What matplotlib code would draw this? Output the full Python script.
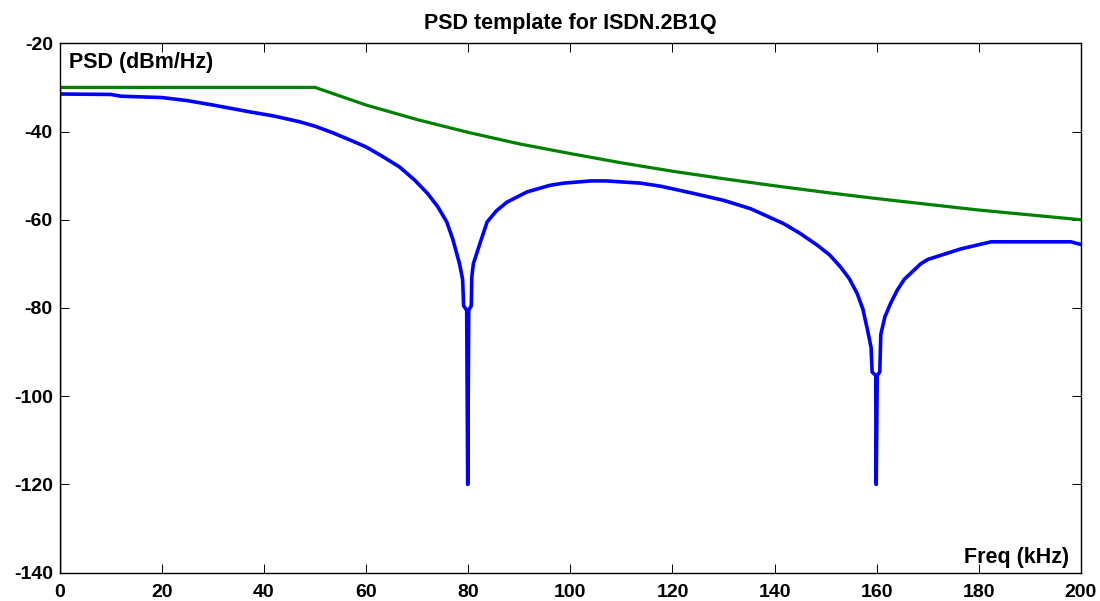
import matplotlib
matplotlib.use("Agg")
import matplotlib.pyplot as plt

# blue: measured PSD (kHz, dBm/Hz)
psd_f = [0, 10, 12, 20, 25, 30, 37, 42, 47, 50, 53.5, 57, 60, 63, 66.5, 69.5,
         72, 74, 75.8, 77, 78.3, 78.9, 79.1, 79.7, 79.9, 80.1, 80.6, 80.7, 81,
         82.4, 83.7, 85.5, 87.6, 91.5, 96, 98.7, 104, 107, 113.7, 117.7, 124,
         130, 135.3, 141.8, 145, 148.4, 150.8, 152.9, 154.6, 156.2, 157.3,
         158.2, 158.9, 159.1, 159.8, 159.9, 160.1, 160.6, 160.8, 161.6, 162.7,
         164, 165.4, 168.6, 170, 176.5, 182.4, 198, 200]
psd_db = [-31.5, -31.6, -32.0, -32.3, -33.0, -34.0, -35.5, -36.5, -37.8, -38.8,
          -40.3, -42.0, -43.5, -45.5, -48.0, -51.0, -54.0, -57.0, -60.5, -64.5,
          -70, -73.5, -79.5, -80.5, -120, -80.5, -79.5, -73, -70, -65, -60.5,
          -58, -56, -53.7, -52.2, -51.7, -51.2, -51.2, -51.7, -52.4, -54, -55.6,
          -57.5, -60.9, -63.1, -65.8, -68, -70.7, -73.3, -76.8, -80.3,
          -85, -89, -94.5, -95.3, -120, -95.3, -94.5, -86, -82, -79,
          -76, -73.5, -70, -69, -66.6, -65, -65, -65.6]

# green: template mask
mask_f = [0, 0, 50, 55, 60, 70, 80, 90, 100, 110, 120, 130, 140, 150, 160,
          170, 180, 190, 200]
mask_db = [-140, -30, -30, -32, -34, -37.3, -40.2, -42.8, -45, -47.1, -49,
           -50.7, -52.3, -53.8, -55.2, -56.5, -57.8, -58.9, -60]

xticks = list(range(0, 201, 20))
yticks = list(range(-140, -19, 20))

plt.rcParams['font.family'] = ['Liberation Sans', 'DejaVu Sans']
plt.rcParams['font.weight'] = 'bold'
plt.rcParams['axes.unicode_minus'] = False

fig = plt.figure(figsize=(11, 6.01), dpi=100)
ax = fig.add_axes([0.0543, 0.0471, 0.9284, 0.8809])

ax.plot(mask_f, mask_db, color=(0, 0.5, 0), lw=2.3, solid_joinstyle='miter')
ax.plot(psd_f, psd_db, color=(0, 0, 1), lw=2.6)

ax.set_xlim(0, 200)
ax.set_ylim(-140, -20)
ax.set_xticks(xticks)
ax.set_yticks(yticks)
ax.tick_params(direction='in', length=6.5, width=0.7, top=True, right=True,
               labelsize=14)
ax.tick_params(axis='x', pad=8)
ax.tick_params(axis='y', pad=5)
for lbl in ax.get_xticklabels() + ax.get_yticklabels():
    lbl.set_fontweight('bold')
for s in ax.spines.values():
    s.set_linewidth(1.0)

ax.set_title('PSD template for ISDN.2B1Q', fontsize=15.5, fontweight='bold', pad=10.5)
ax.text(1.9, -25.5, 'PSD (dBm/Hz)', ha='left', va='baseline',
        fontsize=15.5, fontweight='bold')
ax.text(197.7, -137.9, 'Freq (kHz)', ha='right', va='baseline',
        fontsize=15.5, fontweight='bold')

fig.savefig('out.png', dpi=100)
